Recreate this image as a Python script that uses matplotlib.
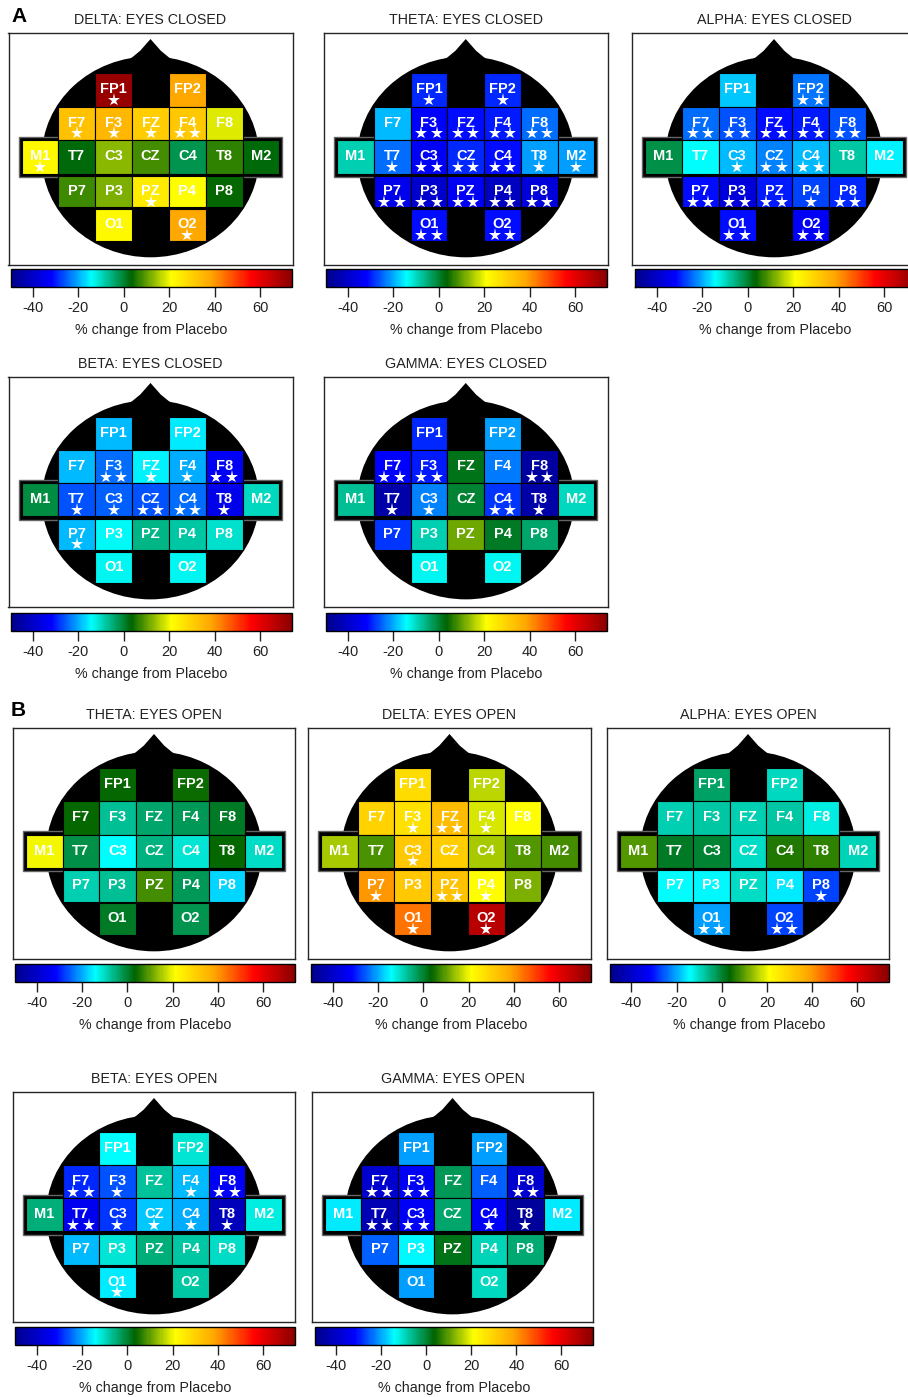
import numpy as np
import matplotlib
matplotlib.use('Agg')
import matplotlib.pyplot as plt
from matplotlib.colors import LinearSegmentedColormap, Normalize
from matplotlib.patches import Rectangle, Ellipse, Polygon
from matplotlib.cm import ScalarMappable

plt.rcParams['font.family'] = ['Liberation Sans', 'DejaVu Sans']
plt.rcParams['axes.unicode_minus'] = False

# ---------------- data ----------------
electrodes = ['FP1', 'FP2', 'F7', 'F3', 'FZ', 'F4', 'F8',
              'M1', 'T7', 'C3', 'CZ', 'C4', 'T8', 'M2',
              'P7', 'P3', 'PZ', 'P4', 'P8', 'O1', 'O2']

delta_ec = [72, 38, 33, 35, 31, 32, 19, 22, 3, 13, 8, -2, 6.5, 3, 7.5, 12, 25, 21, 4, 22, 38]
delta_ec_sig = [1, 0, 1, 1, 1, 2, 0, 1, 0, 0, 0, 0, 0, 0, 0, 0, 1, 0, 0, 0, 1]

theta_ec = [-29, -29, -19, -32, -31, -30, -24, -8.5, -24, -33, -29, -31, -21, -21, -35, -39, -33, -41, -37, -31, -31]
theta_ec_sig = [1, 1, 0, 2, 2, 2, 2, 0, 1, 2, 2, 2, 1, 1, 2, 2, 2, 2, 2, 2, 2]

alpha_ec = [-18, -23.5, -24, -26, -31, -30, -26, -1.3, -14, -19, -22.5, -19, -8, -15, -31, -37, -30, -27, -29, -31, -33]
alpha_ec_sig = [0, 2, 2, 2, 2, 2, 2, 0, 0, 1, 2, 2, 0, 0, 2, 2, 2, 1, 2, 2, 2]

beta_ec = [-19, -15.5, -19, -24, -15, -20, -33, -1, -26, -25, -26, -24, -35, -9.5, -19, -13.5, -6, -8, -10.5, -13, -13]
beta_ec_sig = [0, 0, 0, 2, 1, 1, 2, 0, 1, 1, 2, 2, 1, 0, 1, 0, 0, 0, 0, 0, 0]

gamma_ec = [-29, -21, -32, -30, 2, -23, -46, -7, -45, -22.5, 0, -28, -45, -9.5, -28, -8.5, 11, 1, -4, -13, -13]
gamma_ec_sig = [0, 0, 2, 2, 0, 0, 2, 0, 1, 1, 0, 2, 1, 0, 0, 0, 0, 0, 0, 0, 0]

theta_eo = [4, 4.5, 4, -7, -4, -2.5, 1, 20, -1.5, -14, -5.5, -11, 4, -10, -8.5, -7, 8, -2.5, -17, 1, -2]
theta_eo_sig = [0] * 21

delta_eo = [28, 16.5, 30, 27, 34, 18.5, 21, 15, 8.5, 32, 31, 15, 9, 8, 40, 32, 33, 21, 12, 44, 67]
delta_eo_sig = [0, 0, 0, 1, 2, 1, 0, 0, 0, 1, 0, 0, 0, 0, 1, 0, 2, 1, 0, 1, 1]

alpha_eo = [-3.5, -9.5, -8.5, -8, -8.5, -8, -12, 9, 1, 0, -10, 5.5, 6.5, -9, -14, -14.6, -10, -15.5, -27, -21, -27]
alpha_eo_sig = [0, 0, 0, 0, 0, 0, 0, 0, 0, 0, 0, 0, 0, 0, 0, 0, 0, 0, 1, 2, 2]

beta_eo = [-14, -11, -29, -26, -7.5, -19, -33, -5, -34, -28, -18, -20, -42, -12, -19, -11, -5, -8, -10, -15.5, -8]
beta_eo_sig = [0, 0, 2, 1, 0, 1, 2, 0, 2, 1, 1, 1, 1, 0, 0, 0, 0, 0, 0, 1, 0]

gamma_eo = [-21, -21, -39, -33, -2.5, -25, -39, -15.5, -43, -33, -4, -33, -47, -15.5, -25, -14.6, 2, -9, -4.5, -21, -9.5]
gamma_eo_sig = [0, 0, 2, 2, 0, 0, 2, 0, 2, 2, 0, 1, 1, 0, 0, 0, 0, 0, 0, 0, 0]

cbar_ticks = [-40, -20, 0, 20, 40, 60]
cbar_labels = ['-40', '-20', '0', '20', '40', '60']
vmin, vmax = -49.5, 74

# ---------------- layout ----------------
col_pos = {'FP1': -1, 'FP2': 1, 'F7': -2, 'F3': -1, 'FZ': 0, 'F4': 1, 'F8': 2,
           'M1': -3, 'T7': -2, 'C3': -1, 'CZ': 0, 'C4': 1, 'T8': 2, 'M2': 3,
           'P7': -2, 'P3': -1, 'PZ': 0, 'P4': 1, 'P8': 2, 'O1': -1, 'O2': 1}
row_of = {'FP1': 'FP', 'FP2': 'FP'}
for e in ['F7', 'F3', 'FZ', 'F4', 'F8']:
    row_of[e] = 'F'
for e in ['M1', 'T7', 'C3', 'CZ', 'C4', 'T8', 'M2']:
    row_of[e] = 'M'
for e in ['P7', 'P3', 'PZ', 'P4', 'P8']:
    row_of[e] = 'P'
for e in ['O1', 'O2']:
    row_of[e] = 'O'
row_y = {'FP': 2.0, 'F': 1.0, 'M': 0.0, 'P': -1.04, 'O': -2.03}
row_h = {'FP': 1.0, 'F': 1.0, 'M': 1.0, 'P': 0.94, 'O': 0.94}

W, H = 908, 1397
fig = plt.figure(figsize=(W / 100, H / 100), dpi=100)

cmap = LinearSegmentedColormap.from_list(
    'eeg', ['darkblue', 'blue', 'cyan', 'darkgreen', 'yellow', 'orange', 'red', 'darkred'])
norm = Normalize(vmin=vmin, vmax=vmax)


def px_axes(x0, y0, x1, y1):
    return fig.add_axes([x0 / W, 1 - y1 / H, (x1 - x0) / W, (y1 - y0) / H])


def draw_panel(title, values, sig, box, cbox):
    ax = px_axes(*box)
    ax.set_xlim(-3.855, 3.855)
    ax.set_ylim(-3.23, 3.70)
    ax.set_xticks([])
    ax.set_yticks([])
    for s in ax.spines.values():
        s.set_linewidth(1.0)
        s.set_color('0.15')
    # head
    ax.add_patch(Ellipse((0, 0), 2 * 2.95, 2 * 3.0, facecolor='black', edgecolor='none'))
    ax.add_patch(Polygon([(-0.75, 2.8), (-0.5, 2.97), (-0.28, 3.17), (0, 3.52),
                          (0.28, 3.17), (0.5, 2.97), (0.75, 2.8)],
                         closed=True, facecolor='black', edgecolor='none'))
    ax.add_patch(Rectangle((-3.58, -0.6), 7.16, 1.2, facecolor='black',
                           edgecolor='0.4', linewidth=1.0))
    for name, v, n in zip(electrodes, values, sig):
        x = col_pos[name]
        r = row_of[name]
        y = row_y[r]
        h = row_h[r]
        ax.add_patch(Rectangle((x - 0.5, y - h / 2), 1.0, h,
                               facecolor=cmap(norm(v)), edgecolor='black', linewidth=0.8))
        ax.text(x, y + 0.02, name, ha='center', va='center', color='white',
                fontsize=10.5, fontweight='bold')
        if n == 1:
            sx = [x]
        elif n == 2:
            sx = [x - 0.21, x + 0.21]
        else:
            sx = []
        if sx:
            ax.plot(sx, [y - 0.3] * len(sx), ls='none', marker='*', color='white',
                    markersize=9.5, markeredgewidth=0)
    fig.text((box[0] + box[2]) / 2 / W, 1 - (box[1] - 13) / H, title,
             ha='center', va='center', fontsize=10.3, color='#222222')
    cax = px_axes(*cbox)
    sm = ScalarMappable(norm=norm, cmap=cmap)
    cb = fig.colorbar(sm, cax=cax, orientation='horizontal', ticks=cbar_ticks)
    cb.set_ticklabels(cbar_labels)
    cb.outline.set_linewidth(1.0)
    cax.tick_params(axis='x', direction='out', length=7, width=1, labelsize=10.5,
                    pad=3, colors='#222222')
    cb.set_label('% change from Placebo', fontsize=10.3, labelpad=6, color='#222222')


panels = [
    ('DELTA: EYES CLOSED', delta_ec, delta_ec_sig, (8.5, 33, 292.5, 265), (11, 269, 292, 287)),
    ('THETA: EYES CLOSED', theta_ec, theta_ec_sig, (324, 33, 607.5, 265), (326, 269, 607, 287)),
    ('ALPHA: EYES CLOSED', alpha_ec, alpha_ec_sig, (632, 33, 916, 265), (635, 269, 916, 287)),
    ('BETA: EYES CLOSED', beta_ec, beta_ec_sig, (8.5, 377, 292.5, 607), (11, 613, 292, 631)),
    ('GAMMA: EYES CLOSED', gamma_ec, gamma_ec_sig, (324, 377, 607.5, 607), (326, 613, 607, 631)),
    ('THETA: EYES OPEN', theta_eo, theta_eo_sig, (13, 728, 295, 959), (15, 964, 295, 982)),
    ('DELTA: EYES OPEN', delta_eo, delta_eo_sig, (308, 728, 591, 959), (311, 964, 591, 982)),
    ('ALPHA: EYES OPEN', alpha_eo, alpha_eo_sig, (607, 728, 889, 959), (610, 964, 889, 982)),
    ('BETA: EYES OPEN', beta_eo, beta_eo_sig, (13, 1092, 295, 1322), (15, 1327, 295, 1345)),
    ('GAMMA: EYES OPEN', gamma_eo, gamma_eo_sig, (312, 1092, 593, 1322), (315, 1327, 593, 1345)),
]

for p in panels:
    draw_panel(*p)

fig.text(19 / W, 1 - 17 / H, 'A', fontsize=15, fontweight='bold', ha='center', va='center')
fig.text(18 / W, 1 - 711 / H, 'B', fontsize=15, fontweight='bold', ha='center', va='center')

fig.savefig('out.png', dpi=100)
